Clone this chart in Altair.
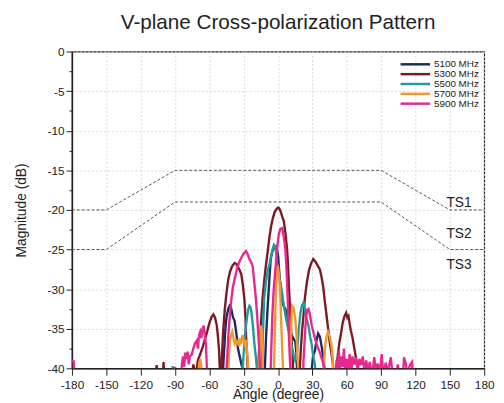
import altair as alt
import pandas as pd

FONT = "Liberation Sans"

series_names = ["5100 MHz", "5300 MHz", "5500 MHz", "5700 MHz", "5900 MHz"]
series_colors = ["#1c2a64", "#7a1a24", "#1e9b9b", "#f2972e", "#e8288e"]

# 5100 MHz
a5100 = [-180, -49, -48, -47, -46, -45, -43.5, -42.3, -41, -39.5, -38, -36.5, -35, -33.5, -32, -31, -30.5,
         -12, -11.5, -10.5, -9, -7.5, -6.4, -5, -3.5, -2, -1, 0, 1, 2.1, 3.5, 5, 6.4, 8, 9.5, 10.7, 12.5, 14, 15, 16, 16.5, 17,
         29, 29.5, 30.5, 31.5, 32.2, 33.5, 35, 36.5, 38, 39.3, 40, 40.5, 180]
d5100 = [-42, -42, -40, -37.5, -35, -33.5, -32.5, -32.1, -32.4, -33.5, -34, -35.5, -37.5, -38.5, -39.5, -40, -42,
         -42, -40, -36, -32, -28.5, -26.2, -25.2, -24.8, -24.6, -24.9, -25.8, -27.8, -30, -31.5, -32.2, -32.5, -33.5, -35, -35.4, -36, -36.4, -36.6, -38, -40, -42,
         -42, -40, -38.5, -38, -37.8, -36.5, -35.6, -36, -37.2, -38.5, -40, -42, -42]

# 5300 MHz
a5300 = [-180, -108, -106, -104, -101, -100, -99,
         -76, -74, -72, -70, -68, -66, -64, -62, -60, -58, -56.5, -55, -53.5, -52.5, -51.5, -50.8,
         -49.5, -48, -46.5, -45, -43.5, -42, -40, -38, -36.5, -35, -33.5, -32, -30.5, -29.4, -28.4, -27.9, -27, -26.5, -26,
         -19, -17.4, -16.5, -15, -13.6, -12, -10.7, -9, -7.5, -6, -4.5, -3, -1.5, 0, 1, 2.5, 4, 5, 6.5, 7.9, 8.7, 9.3, 10, 10.7, 11.5, 12.2, 13, 13.5,
         18.5, 19, 19.9, 21, 22.2, 23.5, 25.1, 27, 29, 30.8, 32.5, 34.5, 36.5, 38, 39.3, 40.8, 42.3, 43.7, 45, 46.5, 48, 48.5,
         50.5, 51, 52.2, 53.5, 55.2, 56.5, 58, 59.4, 60.5, 61.5, 62.3, 63.5, 65.1, 66.5, 68, 69.5, 70, 180]
d5300 = [-42, -42, -39.6, -42, -42, -39.2, -42,
         -42, -39.5, -41, -39, -38.2, -37.4, -36.4, -35.4, -34.3, -33.5, -33.2, -33.6, -34.6, -36, -37.8, -40.5,
         -40, -35.4, -32.5, -30.4, -28.8, -27.8, -27.1, -26.7, -26.8, -27.2, -27.6, -28.2, -29.8, -31.3, -33.8, -36.2, -38.5, -40, -42,
         -42, -40, -37.5, -34.5, -31.3, -28.8, -27.1, -25.2, -23.4, -22, -21, -20.3, -19.9, -19.7, -19.8, -20.3, -21, -21.4, -23, -25, -27, -29.2, -31.2, -33.3, -35.5, -37.5, -39.5, -42,
         -42, -40, -37.5, -35.2, -33.3, -31, -29.2, -27.6, -26.7, -26.2, -26.5, -27, -27.5, -28.5, -29.6, -31.5, -33.3, -35, -36.6, -38, -39.5, -42,
         -42, -40, -38.3, -36.8, -35.4, -34.2, -33.4, -33, -33.6, -33.4, -34.2, -35.2, -36.2, -37.4, -38.7, -40, -42, -42]

# 5500 MHz
a5500 = [-180, -93, -92, -91,
         -32, -31, -30, -29, -28, -27, -26, -25, -24, -23, -22, -21, -20, -19.3, -18.5, -18,
         -15, -14.5, -13.6, -12.9, -12.2, -10.5, -9, -7.9, -6, -4.5, -3.6, -2.5, -1.5, -0.7, 0.7, 2.1, 3.5, 5, 6.4, 8.5, 10.7, 12, 13.6, 15,
         16.3, 17.9, 19.5, 20.8, 22.2, 23.5, 24.5, 26.5, 28, 29.4, 30.5, 32.2, 33, 180]
d5500 = [-42, -42, -39.7, -42,
         -42, -40, -38, -36, -34.6, -33.4, -32.5, -32.1, -32.3, -33.2, -34.6, -36.4, -37.8, -38.7, -40, -42,
         -42, -40, -37.5, -34.3, -31.3, -29, -27.6, -27.1, -25.8, -24.8, -24.4, -24.6, -25.5, -27.1, -28.4, -29.2, -30.5, -32, -33.3, -34.8, -36.2, -37.3, -38.3, -39,
         -38.5, -35.4, -33, -32.1, -31.7, -32.5, -33.5, -34.6, -36, -37, -38.3, -39.5, -42, -42]

# 5700 MHz
a5700 = [-180, -70, -69, -68, -67, -66,
         -44, -43, -42, -41, -40, -39, -38, -37, -36, -35, -34, -33, -32, -31, -30, -29, -28, -27, -26, -25.5,
         -17, -16.5, -15.5, -15, -14, -13.5, -13,
         -4.5, -3.6, -2.8, -2.1, -1.4, -0.7, 0, 0.8, 1.5, 2.1, 2.8, 3.6, 4.3, 4.8,
         10.5, 11, 11.5, 12.2, 13.6, 15, 16, 16.8, 17.5, 18,
         39.5, 40, 40.8, 42, 43.6, 45, 46.6, 47.5, 48, 48.5, 180]
d5700 = [-42, -42, -39.5, -38.8, -39.8, -42,
         -42, -38.5, -36.5, -35.8, -35.4, -36.2, -36.8, -36.3, -37, -36.5, -37.2, -36.2, -36.6, -35.8, -36.5, -37, -36.4, -38, -40, -42,
         -42, -39, -36, -34.6, -35.5, -38, -42,
         -42, -40, -35, -31.3, -28.5, -27.3, -27.2, -28.3, -29.5, -31.3, -34.5, -37.5, -40, -42,
         -42, -38, -34.5, -32.1, -32.4, -33.7, -35.5, -38, -40, -42,
         -42, -40, -37.5, -36.2, -35.4, -36, -37, -38.5, -40, -42, -42]

# 5900 MHz
a5900 = [-180, -178.5, -177.5, -91, -90, -89,
         -85, -84, -83, -82, -81, -80, -79, -78, -77, -75.5, -74, -72.5, -71, -70, -69, -68, -67, -66, -65, -64, -63, -62.3, -62,
         -45.5, -45, -44, -43.6, -42.2, -40.8, -39.5, -38, -36, -34, -32, -30, -28, -26.5, -25, -23.5, -22.2, -21, -19.3, -18, -16.5, -15.7, -15.3,
         -7, -6.4, -5.7, -5, -3.8, -2.1, -0.8, 0.7, 2, 3.6, 4.8, 6.4, 7.2, 7.9, 8.6, 9.3, 10, 10.7, 11,
         21.8, 22.2, 23, 23.6, 24.5, 25.5, 26.5, 27.5, 28.5, 29.4, 31.5, 33.7, 36, 38, 40.8, 41.5,
         50, 51, 52, 53, 54, 55, 56.5, 57.5, 58.5, 60, 61, 62.5, 64, 65, 66.5, 68, 69.5, 71, 72.5, 74, 75.5, 77, 78.5, 80,
         82, 84, 85.5, 87, 89, 90.5, 92, 94, 95.5, 97, 98.5, 100, 103, 104.5, 106, 109, 110, 111.5, 113, 115, 117, 118, 180]
d5900 = [-39, -39.1, -42, -42, -39.8, -42,
         -42, -39.5, -38.5, -39.8, -38, -38.8, -37.9, -39.5, -38.5, -38.3, -37.5, -36.8, -36.5, -37.5, -35.8, -35.4, -36.2, -35, -34.6, -35.8, -37, -39.5, -42,
         -42, -40, -37.5, -36.2, -33.5, -31.3, -29.8, -28.8, -27.5, -26.6, -26, -25.5, -25.2, -25.6, -26.2, -26.6, -27.1, -28.8, -31.3, -34, -37.5, -40, -42,
         -42, -40, -36.5, -33.3, -30, -27.1, -24.8, -23, -22.4, -22.3, -23.2, -25, -27, -29.2, -32, -35.4, -37.8, -40, -42,
         -42, -39, -37, -35.4, -33.5, -32.6, -32.5, -33, -33.8, -34.6, -35.8, -37, -37.8, -38.7, -40, -42,
         -42, -39, -41, -37.8, -40, -38.5, -39.8, -37.5, -40, -38.8, -41, -38.2, -40.5, -38.5, -39.5, -38.6, -40.5, -38.8, -39.6, -38.5, -40.5, -39, -40.5, -39.2,
         -41, -38.6, -40.5, -39.4, -40.5, -38.2, -41, -39.3, -40.5, -39.6, -38.6, -41, -41, -39.5, -41, -41, -38.6, -39.4, -41, -39.6, -39.2, -42, -42]

# Template (spec) lines
ts1_angle = [-180, -150, -90, 90, 150, 180]
ts1_db = [-20, -20, -15, -15, -20, -20]
ts2_angle = [-180, -150, -90, 90, 150, 180]
ts2_db = [-25, -25, -19, -19, -25, -25]

ts_labels = ["TS1", "TS2", "TS3"]
ts_label_angle = [158, 158, 158]
ts_label_db = [-19.1, -23.1, -26.9]

x_ticks = list(range(-180, 181, 30))
y_ticks = list(range(-40, 1, 5))
y_minor = [-37.5, -32.5, -27.5, -22.5, -17.5, -12.5, -7.5, -2.5]

rows = []
for name, a, d in zip(series_names, [a5100, a5300, a5500, a5700, a5900], [d5100, d5300, d5500, d5700, d5900]):
    for ang, db in zip(a, d):
        rows.append({"series": name, "angle": ang, "db": db})
df = pd.DataFrame(rows)

ts_rows = []
for name, a, d in [("TS1", ts1_angle, ts1_db), ("TS2", ts2_angle, ts2_db)]:
    for ang, db in zip(a, d):
        ts_rows.append({"ts": name, "angle": ang, "db": db})
ts_df = pd.DataFrame(ts_rows)

lab_df = pd.DataFrame({"label": ts_labels, "angle": ts_label_angle, "db": ts_label_db})
minor_df = pd.DataFrame({"db": y_minor})

xscale = alt.Scale(domain=[-180, 180], nice=False, zero=False)
yscale = alt.Scale(domain=[-40, 0], nice=False, zero=False)

xaxis = alt.Axis(values=x_ticks, title="Angle (degree)", labelFont=FONT, titleFont=FONT,
                 labelFontSize=12, titleFontSize=14, titleFontWeight="normal",
                 labelColor="#222", titleColor="#222", tickColor="#222", domainColor="#222",
                 tickSize=7, labelPadding=5, titlePadding=-3, domainWidth=1.5,
                 labelExpr="'' + datum.value",
                 grid=True, gridDash=[2, 2], gridColor="#d8d8d8", labelFlush=False)
yaxis = alt.Axis(values=y_ticks, title="Magnitude (dB)", labelFont=FONT, titleFont=FONT,
                 labelFontSize=12, titleFontSize=14, titleFontWeight="normal",
                 labelColor="#222", titleColor="#222", tickColor="#222", domainColor="#222",
                 tickSize=6, labelPadding=2, titlePadding=19, domainWidth=1.5,
                 labelExpr="'' + datum.value",
                 grid=True, gridDash=[2, 2], gridColor="#d8d8d8", labelFlush=False)

lines = alt.Chart(df).mark_line(strokeWidth=2.4, clip=True, interpolate="linear").encode(
    x=alt.X("angle:Q", scale=xscale, axis=xaxis),
    y=alt.Y("db:Q", scale=yscale, axis=yaxis),
    color=alt.Color("series:N", scale=alt.Scale(domain=series_names, range=series_colors),
                    legend=alt.Legend(title=None, orient="none", legendX=344, legendY=8,
                                      symbolType="M-5,0L5,0", symbolSize=36, symbolStrokeWidth=2.5,
                                      labelFont=FONT, labelFontSize=10, labelColor="#222",
                                      rowPadding=0, labelOffset=14)),
    order=alt.Order("angle:Q"),
)

ts_lines = alt.Chart(ts_df).mark_line(strokeWidth=1, strokeDash=[3, 2], color="#555555", clip=True).encode(
    x=alt.X("angle:Q", scale=xscale, axis=xaxis),
    y=alt.Y("db:Q", scale=yscale, axis=None),
    detail="ts:N",
)

ts_text = alt.Chart(lab_df).mark_text(font=FONT, fontSize=14, color="#222", align="center", baseline="middle").encode(
    x=alt.X("angle:Q", scale=xscale, axis=xaxis),
    y=alt.Y("db:Q", scale=yscale, axis=None),
    text="label:N",
)

minor = alt.Chart(minor_df).mark_tick(opacity=0).encode(
    y=alt.Y("db:Q", scale=yscale,
            axis=alt.Axis(values=y_minor, labels=False, title=None, grid=False, domain=False,
                          tickSize=3, tickColor="#222", orient="left")),
)

chart = alt.layer(lines, ts_lines, ts_text, minor).resolve_axis(y="independent").properties(
    width=419,
    height=322,
    padding={"left": 65, "top": 41, "right": 12, "bottom": 32},
    autosize=alt.AutoSizeParams(type="none"),
    title=alt.TitleParams("V-plane Cross-polarization Pattern", font=FONT, fontSize=21,
                          fontWeight="normal", color="#222", anchor="middle", offset=13),
).configure_view(stroke="#222", strokeWidth=1.2)

chart.save("out.html", embed_options={"renderer": "svg", "actions": False})
